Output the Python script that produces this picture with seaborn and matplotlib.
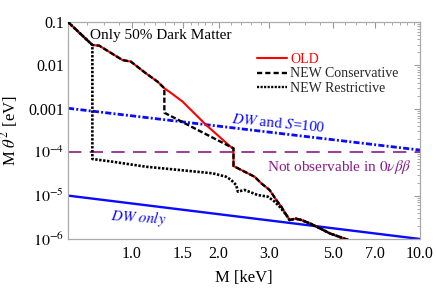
import numpy as np
import pandas as pd
import matplotlib
matplotlib.use("Agg")
import matplotlib.pyplot as plt
from matplotlib.lines import Line2D
from matplotlib.ticker import FixedLocator, LogLocator, NullFormatter
import seaborn as sns

# ---------------- data ----------------
old_M = [0.6, 0.729, 0.770, 0.927, 0.992, 1.118, 1.228, 1.296, 1.348, 1.500, 1.81, 2.211,
         2.252, 2.252, 2.46, 2.666, 2.812, 3.005, 3.171, 3.301, 3.436, 3.527, 3.70, 3.874,
         4.141, 4.486, 4.861, 5.63]
old_v = [0.1, 0.0295, 0.0285, 0.0133, 0.0122, 0.00658, 0.00421, 0.00297, 0.00248, 0.00146,
         4.24e-4, 1.30e-4, 1.23e-4, 4.8e-5, 3.56e-5, 2.72e-5, 1.92e-5, 1.35e-5, 7.92e-6,
         5.55e-6, 3.57e-6, 2.74e-6, 2.94e-6, 2.74e-6, 2.30e-6, 1.77e-6, 1.35e-6, 0.95e-6]

cons_M = [0.6, 0.729, 0.770, 0.927, 0.992, 1.118, 1.228, 1.296, 1.296, 1.716, 2.252, 2.252,
          2.46, 2.666, 2.812, 3.005, 3.171, 3.301, 3.436, 3.527, 3.70, 3.874, 4.141, 4.486,
          4.861, 5.63]
cons_v = [0.1, 0.0295, 0.0285, 0.0133, 0.0122, 0.00658, 0.00421, 0.00297, 8.13e-4, 3.1e-4,
          1.23e-4, 4.8e-5, 3.56e-5, 2.72e-5, 1.92e-5, 1.35e-5, 7.92e-6, 5.55e-6, 3.57e-6,
          2.74e-6, 2.94e-6, 2.74e-6, 2.30e-6, 1.77e-6, 1.35e-6, 0.95e-6]

rest_M = [0.6, 0.729, 0.729, 0.856, 1.118, 1.461, 1.908, 2.124, 2.211, 2.301, 2.332, 2.46,
          2.736, 2.965, 3.129, 3.256, 3.436, 3.527, 3.70, 3.874, 4.141, 4.486, 4.861, 5.63]
rest_v = [0.1, 0.0295, 6.97e-5, 6.04e-5, 4.63e-5, 3.89e-5, 3.26e-5, 2.72e-5, 2.29e-5,
          1.75e-5, 1.23e-5, 1.35e-5, 1.03e-5, 9.44e-6, 7.24e-6, 5.55e-6, 3.57e-6, 2.74e-6,
          2.94e-6, 2.74e-6, 2.30e-6, 1.77e-6, 1.35e-6, 0.95e-6]

dws_M = [0.6, 10.0]
dws_v = [1.03e-3, 1.12e-4]

dw_M = [0.6, 10.0]
dw_v = [1.0e-5, 1.0e-6]

nob_M = [0.6, 10.0]
nob_v = [1e-4, 1e-4]

x_ticks = [1.0, 1.5, 2.0, 3.0, 5.0, 7.0, 10.0]
x_labels = ["1.0", "1.5", "2.0", "3.0", "5.0", "7.0", "10.0"]
y_ticks = [1e-1, 1e-2, 1e-3, 1e-4, 1e-5, 1e-6]
y_labels = ["0.1", "0.01", "0.001", r"$10^{-4}$", r"$10^{-5}$", r"$10^{-6}$"]

# ---------------- style ----------------
sns.set_theme(style="white")
plt.rcParams["font.family"] = ["Liberation Serif", "DejaVu Serif"]
plt.rcParams["mathtext.fontset"] = "stix"

fig = plt.figure(figsize=(4.36, 2.88), dpi=100)
ax = fig.add_axes([68 / 436, 1 - 239 / 288, 352 / 436, 217 / 288])
ax.set_xscale("log")
ax.set_yscale("log")

RED = "#ff0000"
BLUE = "#0a0aff"
PURPLE = "#8b1a8b"


def draw(M, v, color, lw, dashes=None, z=2):
    df = pd.DataFrame({"M": M, "v": v})
    sns.lineplot(data=df, x="M", y="v", sort=False, estimator=None, ax=ax,
                 color=color, lw=lw, zorder=z)
    ln = ax.lines[-1]
    if dashes is not None:
        ln.set_dashes(dashes)
    ln.set_solid_capstyle("butt")
    ln.set_dash_capstyle("butt")
    return ln


draw(nob_M, nob_v, PURPLE, 1.2, (8, 5), z=1)
draw(dw_M, dw_v, BLUE, 1.7, None, z=1)
draw(dws_M, dws_v, BLUE, 2.0, (2.2, 0.8, 0.7, 0.8), z=1)
draw(old_M, old_v, RED, 1.5, None, z=2)
draw(cons_M, cons_v, "black", 1.7, (2.2, 1.0), z=3)
draw(rest_M, rest_v, "black", 1.9, (0.9, 0.6), z=4)

ax.set_xlim(0.6, 10.0)
ax.set_ylim(1e-6, 0.1)

ax.xaxis.set_major_locator(FixedLocator(x_ticks))
ax.set_xticklabels(x_labels)
minor_x = [0.6, 0.7, 0.8, 0.9, 1.1, 1.2, 1.3, 1.4, 1.6, 1.7, 1.8, 1.9, 2.2, 2.4, 2.6, 2.8,
           3.5, 4.0, 4.5, 5.5, 6.0, 6.5, 7.5, 8.0, 8.5, 9.0, 9.5]
ax.xaxis.set_minor_locator(FixedLocator(minor_x))
ax.xaxis.set_minor_formatter(NullFormatter())
ax.yaxis.set_major_locator(FixedLocator(y_ticks))
ax.set_yticklabels(y_labels)
ax.yaxis.set_minor_locator(LogLocator(base=10, subs=np.arange(2, 10)))
ax.yaxis.set_minor_formatter(NullFormatter())

ax.tick_params(which="both", direction="in", top=True, right=True, color="#999999",
               labelcolor="black", labelsize=11.5)
ax.tick_params(which="major", length=4, width=0.8)
ax.tick_params(which="minor", length=2, width=0.6)
ax.tick_params(axis="x", pad=5)
ax.tick_params(axis="y", pad=3)
for s in ax.spines.values():
    s.set_color("#aaaaaa")
    s.set_linewidth(0.9)

ax.set_xlabel("M [keV]", fontsize=12, color="black")
ax.set_ylabel(r"M $\theta^2$ [eV]", fontsize=12, color="black")
ax.xaxis.set_label_coords(0.5, -0.145)
ax.yaxis.set_label_coords(-0.135, 0.5)

ax.text(0.0625, 0.94, "Only 50% Dark Matter", transform=ax.transAxes, fontsize=11,
        va="center", ha="left", color="black")
ax.text(0.599, 0.533, r"$DW$ and $S$=100", transform=ax.transAxes, fontsize=11,
        va="center", ha="center", color=BLUE, rotation=-5.5, rotation_mode="anchor")
ax.text(0.2, 0.101, r"$DW$ $only$", transform=ax.transAxes, fontsize=11,
        va="center", ha="center", color=BLUE, rotation=-4, rotation_mode="anchor")
ax.text(0.771, 0.333, r"Not observable in $0\nu\beta\beta$", transform=ax.transAxes,
        fontsize=11, va="center", ha="center", color=PURPLE)

handles = [Line2D([], [], color=RED, lw=1.5),
           Line2D([], [], color="black", lw=1.7, dashes=(2.2, 1.3)),
           Line2D([], [], color="black", lw=1.7, dashes=(0.9, 0.6))]
leg = ax.legend(handles, ["OLD", "NEW Conservative", "NEW Restrictive"], frameon=False,
                loc="upper left", bbox_to_anchor=(0.517, 0.89), borderpad=0,
                handlelength=2.2, handletextpad=0.2, labelspacing=0.12, fontsize=10)
leg.get_texts()[0].set_color(RED)

fig.savefig("out.png", dpi=100)
